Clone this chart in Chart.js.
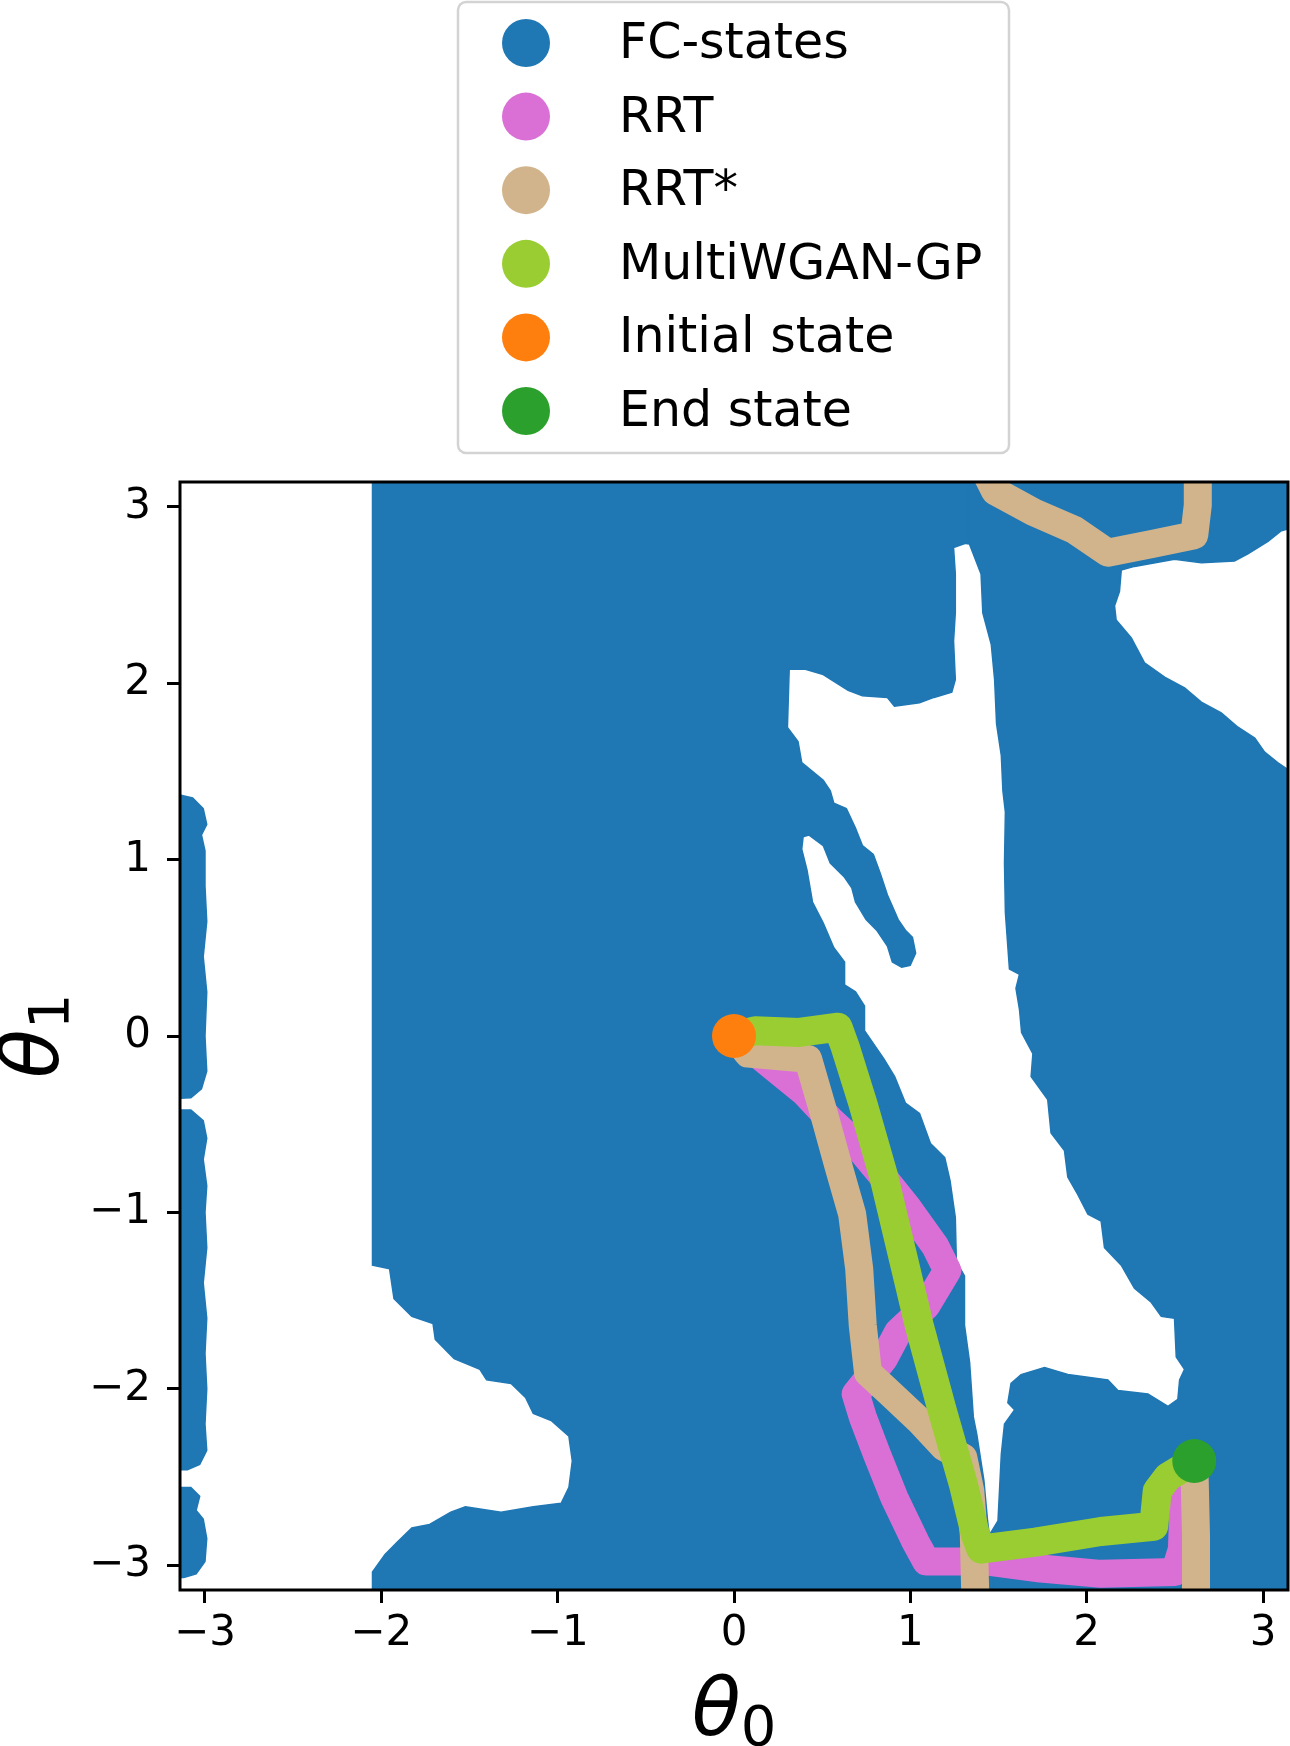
<!DOCTYPE html>
<html>
<head>
<meta charset="utf-8">
<script src="https://cdn.jsdelivr.net/npm/chart.js@4.4.1/dist/chart.umd.min.js"></script>
<style>
  html, body { margin: 0; padding: 0; background: #fff; }
  canvas { display: block; }
</style>
</head>
<body>
<canvas id="fcChart" width="1290" height="1746"></canvas>
<script>
// tick positions
const xTicks = [-3, -2, -1, 0, 1, 2, 3];
const yTicks = [-3, -2, -1, 0, 1, 2, 3];

// FC-states region, outlines (theta0, theta1)
const fcLeftX = [-2.05, 1.33, 1.33, 1.245, 1.255, 1.255, 1.245, 1.255, 1.235, 1.134, 1.052, 0.91, 0.87, 0.728, 0.647, 0.506, 0.405, 0.313,
  0.303, 0.363, 0.384, 0.506, 0.546, 0.566, 0.637, 0.688, 0.728, 0.79, 0.83, 0.87, 0.931, 0.972, 1.012,
  1.03, 0.999, 0.951, 0.898, 0.87, 0.809, 0.749, 0.689, 0.668, 0.627, 0.546, 0.506, 0.424, 0.392,
  0.384, 0.414, 0.445, 0.506, 0.566, 0.627, 0.627, 0.689, 0.74, 0.74, 0.85, 0.911, 0.972, 1.052, 1.114, 1.195,
  1.225, 1.255, 1.261, 1.307, 1.307, 1.336, 1.357, 1.377, 1.417, 1.438, 1.448, 1.47, 1.47,
  -2.05, -2.05, -1.979, -1.909, -1.827, -1.726, -1.606, -1.523, -1.321, -1.138, -0.98, -0.936, -0.917, -0.936,
  -1.037, -1.138, -1.182, -1.264, -1.403, -1.441, -1.587, -1.694, -1.707, -1.827, -1.928, -1.953, -2.05, -2.05];
const fcLeftY = [3.3, 3.3, 2.8, 2.77, 2.62, 2.4, 2.24, 2.02, 1.95, 1.92, 1.89, 1.87, 1.92, 1.93, 1.96, 2.05, 2.08, 2.08,
  1.75, 1.67, 1.55, 1.45, 1.39, 1.32, 1.29, 1.18, 1.08, 1.03, 0.92, 0.8, 0.66, 0.6, 0.56,
  0.47, 0.4, 0.39, 0.42, 0.51, 0.6, 0.66, 0.76, 0.84, 0.9, 0.98, 1.08, 1.14, 1.13,
  1.06, 0.94, 0.76, 0.64, 0.5, 0.42, 0.29, 0.25, 0.17, 0.03, -0.13, -0.23, -0.38, -0.44, -0.61, -0.69,
  -0.82, -1.03, -1.28, -1.36, -1.64, -1.85, -2.16, -2.26, -2.52, -2.75, -2.83, -2.86, -3.3,
  -3.3, -3.04, -2.94, -2.87, -2.79, -2.77, -2.7, -2.67, -2.7, -2.67, -2.65, -2.56, -2.41, -2.27,
  -2.18, -2.14, -2.05, -1.97, -1.95, -1.89, -1.83, -1.72, -1.63, -1.59, -1.49, -1.32, -1.3, 3.3];

const fcRightX = [1.27, 3.3, 3.3, 3.104, 3.028, 2.914, 2.838, 2.65, 2.498, 2.271, 2.196, 2.186, 2.158, 2.167, 2.253, 2.328,
  2.442, 2.555, 2.65, 2.763, 2.858, 2.953, 3.009, 3.085, 3.3, 3.3, 1.43, 1.43, 1.448,
  1.497, 1.516, 1.534, 1.591, 1.553, 1.571, 1.628, 1.761, 1.893, 2.12, 2.177, 2.347, 2.461, 2.517, 2.527, 2.555,
  2.508, 2.498, 2.423, 2.366, 2.271, 2.196, 2.101, 2.082, 2.007, 1.95, 1.893, 1.874, 1.798, 1.779, 1.685, 1.695,
  1.631, 1.619, 1.599, 1.619, 1.562, 1.539, 1.534, 1.539, 1.525, 1.516, 1.489, 1.478, 1.459, 1.411, 1.401, 1.335, 1.27, 1.27];
const fcRightY = [3.3, 3.3, 2.92, 2.865, 2.805, 2.734, 2.693, 2.683, 2.703, 2.663, 2.642, 2.521, 2.44, 2.359, 2.257, 2.116,
  2.035, 1.974, 1.893, 1.832, 1.751, 1.69, 1.61, 1.549, 1.4, -3.3, -3.3, -2.86, -2.83,
  -2.75, -2.37, -2.2, -2.12, -2.08, -1.97, -1.92, -1.88, -1.92, -1.95, -2.01, -2.03, -2.1, -2.06, -1.95, -1.89,
  -1.82, -1.6, -1.59, -1.51, -1.43, -1.3, -1.2, -1.05, -1.01, -0.9, -0.8, -0.65, -0.55, -0.36, -0.23, -0.1,
  0.02, 0.15, 0.27, 0.35, 0.38, 0.7, 0.98, 1.27, 1.39, 1.59, 1.77, 2.02, 2.22, 2.4, 2.62, 2.79, 2.8, 3.3];

// thin FC strips along the left edge
const fcStripAX = [-3.3, -3.25, -3.16, -3.07, -3.01, -2.99, -3.02, -3.0, -3.0, -2.99, -3.01, -2.99, -3.0, -2.99, -3.02, -3.08, -3.3];
const fcStripAY = [1.25, 1.35, 1.37, 1.35, 1.29, 1.2, 1.14, 1.05, 0.85, 0.65, 0.45, 0.25, 0.0, -0.2, -0.3, -0.35, -0.36];
const fcStripBX = [-3.3, -3.08, -3.01, -2.99, -3.01, -2.99, -3.0, -2.99, -3.01, -2.99, -3.0, -2.99, -3.0, -2.99, -3.03, -3.1, -3.3];
const fcStripBY = [-0.42, -0.42, -0.48, -0.58, -0.7, -0.85, -1.0, -1.2, -1.4, -1.6, -1.8, -2.0, -2.2, -2.35, -2.43, -2.46, -2.46];
const fcStripCX = [-3.3, -3.08, -3.03, -3.05, -3.01, -2.99, -3.0, -3.05, -3.12, -3.3];
const fcStripCY = [-2.56, -2.56, -2.61, -2.69, -2.74, -2.85, -2.98, -3.05, -3.07, -3.07];

// planned paths (null = wrap across the +-pi border)
const rrtX = [0, 0.13, 0.4, 0.55, 0.68, 0.83, 0.99, 1.14, 1.21, 1.09, 0.93, 0.85, 0.69, 0.73, 0.81, 0.91, 1.03, 1.09, 1.44, 1.74, 2.08, 2.5, 2.54, 2.55, 2.61];
const rrtY = [0, -0.1, -0.32, -0.48, -0.6, -0.78, -0.98, -1.19, -1.33, -1.53, -1.68, -1.83, -2.03, -2.16, -2.37, -2.62, -2.87, -2.98, -2.98, -3.02, -3.05, -3.04, -2.91, -2.62, -2.41];

const rrtStarX = [0, 0.08, 0.42, 0.51, 0.59, 0.67, 0.71, 0.73, 0.76, 0.89, 1.05, 1.19, 1.3, 1.34, 1.36, 1.37, null,
  1.4, 1.48, 1.7, 1.93, 2.12, 2.37, 2.61, 2.63, 2.63, null, 2.62, 2.62, 2.61];
const rrtStarY = [0, -0.1, -0.13, -0.44, -0.73, -1.01, -1.32, -1.64, -1.91, -2.03, -2.18, -2.33, -2.39, -2.58, -2.83, -3.25, null,
  3.25, 3.09, 2.97, 2.87, 2.74, 2.79, 2.84, 3.01, 3.25, null, -3.25, -2.84, -2.41];

const wganX = [0, 0.12, 0.37, 0.59, 0.63, 0.73, 0.85, 0.95, 1.05, 1.18, 1.3, 1.37, 1.4, 1.71, 2.08, 2.38, 2.4, 2.46, 2.61];
const wganY = [0, 0.03, 0.02, 0.05, -0.06, -0.38, -0.8, -1.22, -1.64, -2.12, -2.54, -2.83, -2.91, -2.87, -2.81, -2.78, -2.58, -2.5, -2.41];

const initialState = [0, 0];
const endState = [2.61, -2.41];

const BLUE = '#1f77b4';
const ORCHID = '#da70d6';
const TAN = '#d2b48c';
const YELLOWGREEN = '#9acd32';
const ORANGE = '#ff7f0e';
const GREEN = '#2ca02c';

function toPoints(xs, ys) {
  return xs.map((x, i) => ({ x: x, y: ys[i] }));
}

function fcShape(label, xs, ys) {
  return {
    label: label,
    data: toPoints(xs, ys),
    showLine: true,
    fill: 'shape',
    backgroundColor: BLUE,
    borderColor: BLUE,
    borderWidth: 1.5,
    pointRadius: 0,
    clip: 0,
    order: 10,
    legendColor: BLUE,
  };
}

function pathLine(label, xs, ys, color, width, order) {
  return {
    label: label,
    data: toPoints(xs, ys),
    showLine: true,
    fill: false,
    borderColor: color,
    backgroundColor: color,
    borderWidth: width,
    borderCapStyle: 'round',
    borderJoinStyle: 'round',
    spanGaps: false,
    pointRadius: 0,
    clip: 0,
    order: order,
    legendColor: color,
  };
}

function stateDot(label, xy, color, order) {
  return {
    label: label,
    data: [{ x: xy[0], y: xy[1] }],
    showLine: false,
    backgroundColor: color,
    borderWidth: 0,
    pointRadius: 22,
    clip: 0,
    order: order,
    legendColor: color,
  };
}

const minusFmt = (v) => (v < 0 ? '\u2212' + Math.abs(v) : String(v));

// axes frame on top of the data
const frame = {
  id: 'frame',
  afterDatasetsDraw(chart) {
    const { ctx, chartArea: a } = chart;
    ctx.save();
    ctx.strokeStyle = '#000';
    ctx.lineWidth = 3;
    ctx.strokeRect(a.left, a.top, a.right - a.left, a.bottom - a.top);
    ctx.restore();
  },
};

// theta_0 / theta_1 axis titles
const axisTitles = {
  id: 'axisTitles',
  afterDraw(chart) {
    const { ctx, chartArea: a } = chart;
    const big = 'italic 80px "DejaVu Sans"';
    const small = '56px "DejaVu Sans"';
    ctx.save();
    ctx.fillStyle = '#000';
    ctx.textBaseline = 'alphabetic';
    ctx.font = big;
    const wt = ctx.measureText('\u03B8').width;
    ctx.font = small;
    const ws = ctx.measureText('0').width;

    let x0 = (a.left + a.right) / 2 - (wt + ws) / 2;
    ctx.font = big;
    ctx.fillText('\u03B8', x0, 1735);
    ctx.font = small;
    ctx.fillText('0', x0 + wt, 1745);

    ctx.translate(58, (a.top + a.bottom) / 2);
    ctx.rotate(-Math.PI / 2);
    x0 = -(wt + ws) / 2;
    ctx.font = big;
    ctx.fillText('\u03B8', x0, 0);
    ctx.font = small;
    ctx.fillText('1', x0 + wt, 10);
    ctx.restore();
  },
};

// framed legend above the axes, one entry per row
const boxLegend = {
  id: 'boxLegend',
  afterDraw(chart) {
    const ctx = chart.ctx;
    const items = chart.data.datasets.filter((d) => d.label);
    ctx.save();
    ctx.beginPath();
    ctx.roundRect(458, 2, 551, 451, 8);
    ctx.fillStyle = 'rgba(255,255,255,0.8)';
    ctx.fill();
    ctx.lineWidth = 2.5;
    ctx.strokeStyle = '#d3d3d3';
    ctx.stroke();
    ctx.font = '49px "DejaVu Sans"';
    ctx.textBaseline = 'alphabetic';
    items.forEach((d, i) => {
      const cy = 43 + i * 73.6;
      ctx.beginPath();
      ctx.arc(526, cy, 24, 0, Math.PI * 2);
      ctx.fillStyle = d.legendColor;
      ctx.fill();
      ctx.fillStyle = '#000';
      ctx.fillText(d.label, 619, cy + 15);
    });
    ctx.restore();
  },
};

const ctx = document.getElementById('fcChart').getContext('2d');
new Chart(ctx, {
  type: 'scatter',
  data: {
    datasets: [
      fcShape('FC-states', fcLeftX, fcLeftY),
      fcShape('', fcRightX, fcRightY),
      fcShape('', fcStripAX, fcStripAY),
      fcShape('', fcStripBX, fcStripBY),
      fcShape('', fcStripCX, fcStripCY),
      pathLine('RRT', rrtX, rrtY, ORCHID, 28, 5),
      pathLine('RRT*', rrtStarX, rrtStarY, TAN, 28, 4),
      pathLine('MultiWGAN-GP', wganX, wganY, YELLOWGREEN, 29, 3),
      stateDot('Initial state', initialState, ORANGE, 2),
      stateDot('End state', endState, GREEN, 1),
    ],
  },
  options: {
    responsive: false,
    devicePixelRatio: 1,
    animation: false,
    layout: {
      autoPadding: false,
      padding: { top: 482, right: 2, left: 0, bottom: 0 },
    },
    scales: {
      x: {
        type: 'linear',
        min: -Math.PI,
        max: Math.PI,
        bounds: 'data',
        afterBuildTicks: (axis) => {
          axis.ticks = xTicks.map((v) => ({ value: v }));
        },
        afterFit: (axis) => {
          axis.height = 156;
          axis.paddingLeft = 0;
          axis.paddingRight = 0;
        },
        border: { display: false },
        grid: {
          display: true,
          drawOnChartArea: false,
          drawTicks: true,
          tickLength: 13,
          tickWidth: 3,
          tickColor: '#000',
        },
        ticks: {
          color: '#000',
          font: { family: 'DejaVu Sans', size: 42 },
          padding: 6,
          maxRotation: 0,
          autoSkip: false,
          callback: minusFmt,
        },
      },
      y: {
        type: 'linear',
        min: -Math.PI,
        max: Math.PI,
        bounds: 'data',
        afterBuildTicks: (axis) => {
          axis.ticks = yTicks.map((v) => ({ value: v }));
        },
        afterFit: (axis) => {
          axis.width = 180;
          axis.paddingTop = 0;
          axis.paddingBottom = 0;
        },
        border: { display: false },
        grid: {
          display: true,
          drawOnChartArea: false,
          drawTicks: true,
          tickLength: 13,
          tickWidth: 3,
          tickColor: '#000',
        },
        ticks: {
          color: '#000',
          font: { family: 'DejaVu Sans', size: 42 },
          padding: 16,
          autoSkip: false,
          callback: minusFmt,
        },
      },
    },
    plugins: {
      legend: { display: false },
      tooltip: { enabled: false },
    },
  },
  plugins: [frame, axisTitles, boxLegend],
});
</script>
</body>
</html>
